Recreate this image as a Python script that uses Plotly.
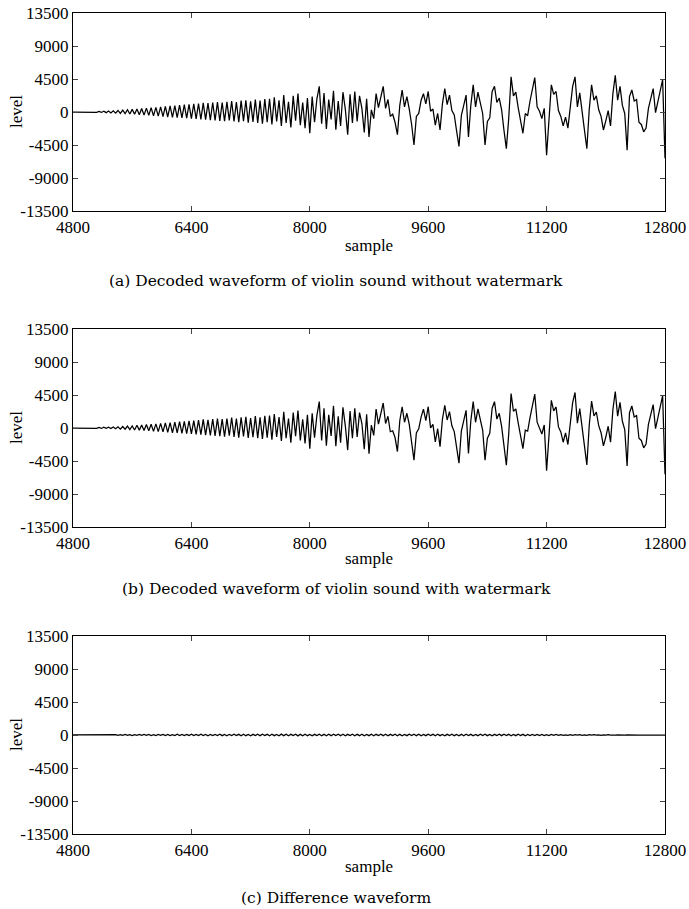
import numpy as np
import plotly.graph_objects as go
from plotly.subplots import make_subplots

# samples 4800..12800, one value every 32 samples
sample = 4800 + 32 * np.arange(251)

# decoded violin waveform (without watermark)
level_orig = [
    0, 0, 10, -10, 0, 20, -15, 30, -25,
    45, -40, 70, -60, 100, -90, 130, -120, 170, -150, 210, -190,
    260, -230, 300, -280, 360, -320, 420, -370, 470, -420, 530, -460, 580, -520, 640, -570, 700, -620, 760, -680, 830,
    -720, 880, -760, 940, -800, 1000, -850, 1050, -900, 1100, -950, 1150, -1000, 1250, -1050, 1200, -1100, 1300, -1150, 1350, -1200, 1300,
    -1250, 1400, -1150, 1500, -1300, 1350, -1400, 1550, -1250, 1600, -1450, 1450, -1350, 1700, -1500, 1550, -1600, 1750, -1400, 1800,
    -1700, 2000, -1300, 1600, -1900, 2300, -1500, 1400, -2100, 2200, -1200, 2500, -1800, 1300, -2200, 1900, -2900, 2100, -1400, 1800, 3500,
    -1600, 2600, -2300, 1700, -1000, 2900, -2400, 1500, -1900, 2700, 400, -3100, 2400, -1500, 2800, -1300, 2200, 500, -2800, 1800, -3400,
    300, -900, 2500, 600, 2000, 3500, 500, 1700, -600, -300, -1400, -3100, 900, 3000, 700, 2100, 400, -1700, -4500, -600,
    -200, 1600, 2500, 1100, 2800, 100, 400, -1800, -200, -2450, 1100, 3200, 1000, 2300, 200, -400, -2600, -4700, -500, 1000, 2300,
    -3400, 900, 3700, 700, 2700, 1000, -200, -4500, -1300, -800, 2800, 3500, 1300, 1900, 300, -2500, -5000, -900, 4800, 2200, 2700,
    600, -1200, -2900, -200, -500, 1500, 3200, 4700, 700, 100, -900, 500, -5900, -1000, 3700, 2400, 2800, 200, -600, -1900, -700,
    -2200, 500, 3500, 4800, 700, 2600, 400, -2500, -5000, 300, 3700, 1600, 2200, 300, -600, -2450, -1200, 200, -1900, 2500, 5000,
    1600, 3500, 900, -200, -5200, 2100, 3000, 1500, 1700, -1400, -1700, -2700, -2200, 500, 1800, 3200, -100, 1500, 3000, 4400, -6300,
]

# difference waveform, panel (c)
level_diff = [
    0, 0, 0, 0, 0, 0, 0, 0, 0, 0, 0, 0, 0, 0,
    40, -30, 50, -40, 60, -50, 40, -60, 70, -50,
    60, -70, 50, -40, 80, -60, 70, -50, 90, -70,
    60, -80, 70, -60, 90, -70, 80, -90, 60, -70,
    100, -80, 70, -90, 80, -60, 100, -90, 70, -80,
    110, -70, 90, -100, 80, -90, 70, -80, 100, -90,
    80, -110, 90, -70, 100, -80, 90, -100, 110, -90,
    80, -100, 90, -80, 110, -90, 100, -80, 90, -110,
    100, -90, 80, -100, 120, -90, 100, -110, 90, -80,
    100, -120, 90, -100, 110, -90, 80, -100, 90, -80,
    110, -100, 90, -110, 100, -90, 120, -80, 100, -90,
    110, -100, 90, -80, 100, -110, 90, -90, 110, -100,
    80, -90, 100, -110, 90, -80, 100, -90, 110, -100,
    90, -80, 100, -110, 90, -100, 80, -90, 100, -80,
    110, -90, 100, -110, 80, -90, 100, -80, 90, -110,
    100, -90, 80, -100, 90, -80, 110, -90, 80, -100,
    90, -110, 100, -80, 90, -100, 80, -90, 110, -80,
    100, -90, 80, -100, 90, -80, 100, -90, 100, -80,
    90, -110, 80, -90, 100, -80, 90, -100, 80, -90,
    70, -80, 90, -70, 80, -90, 60, -70, 80, -60,
    70, -50, 60, -40, 30, -50, 60, -40, 50, -30,
    40, -50, 30, -40, 50, -30, 40, -20, 30, -40,
    20, -30, 40, -20, 30, -20, 20, -10, 20, -10,
    10, -10,
    0, 0, 0, 0, 0, 0, 0, 0, 0, 0, 0, 0, 0, 0, 0,
]
assert len(level_orig) == len(sample) and len(level_diff) == len(sample)

level_marked = [a + d for a, d in zip(level_orig, level_diff)]

x_ticks = [4800, 6400, 8000, 9600, 11200, 12800]
y_ticks = [-13500, -9000, -4500, 0, 4500, 9000, 13500]
captions = [
    "(a) Decoded waveform of violin sound without watermark",
    "(b) Decoded waveform of violin sound with watermark",
    "(c) Difference waveform",
]

# page layout in window pixels
W, H = 689, 909
L, R, T, B = 73, 665, 13, 834
panels_px = [(13, 211), (329, 527), (636, 834)]
sample_y = [245, 558, 866]
caption_y = [281, 589, 898]


def py(y):
    return (B - y) / (B - T)


def px(x):
    return (x - L) / (R - L)


fig = make_subplots(rows=3, cols=1)
for k, ys in enumerate([level_orig, level_marked, level_diff]):
    fig.add_trace(go.Scatter(x=sample, y=ys, mode="lines",
                             line=dict(color="black", width=1.25),
                             showlegend=False), row=k + 1, col=1)

serif = "Liberation Serif, Times New Roman, serif"
tickfont = dict(family=serif, size=17, color="black")
for k, (top, bot) in enumerate(panels_px):
    ax = "" if k == 0 else str(k + 1)
    fig.layout["yaxis" + ax].update(domain=[py(bot), py(top)])
    fig.layout["xaxis" + ax].update(
        range=[4800, 12800], tickvals=x_ticks, ticktext=[str(v) for v in x_ticks],
        ticks="inside", ticklen=5, mirror="allticks", showline=True,
        linecolor="black", linewidth=1.2, showgrid=False, zeroline=False,
        automargin=False, ticklabeloverflow="allow", tickfont=tickfont)
    fig.layout["yaxis" + ax].update(
        range=[-13500, 13500], tickvals=y_ticks, ticktext=[str(v) for v in y_ticks],
        ticks="inside", ticklen=5, mirror="allticks", showline=True,
        linecolor="black", linewidth=1.2, showgrid=False, zeroline=False,
        automargin=False, ticklabeloverflow="allow", tickfont=tickfont)
    fig.add_annotation(x=px(369), y=py(sample_y[k]), xref="paper", yref="paper",
                       xanchor="center", yanchor="middle",
                       text="sample", showarrow=False, font=tickfont)
    fig.add_annotation(x=px(16), y=py((top + bot) / 2), xref="paper", yref="paper",
                       xanchor="center", yanchor="middle",
                       text="level", textangle=-90, showarrow=False, font=tickfont)
    fig.add_annotation(x=px(336), y=py(caption_y[k]), xref="paper", yref="paper",
                       xanchor="center", yanchor="middle",
                       text=captions[k], showarrow=False,
                       font=dict(family="DejaVu Serif, serif", size=15.5, color="black"))

fig.update_layout(
    width=W, height=H,
    margin=dict(l=L, r=W - R, t=T, b=H - B, autoexpand=False),
    plot_bgcolor="white", paper_bgcolor="white",
)

# drop the default 8px body margin so the figure fills the window
fig.write_html("out.html", config={"displayModeBar": False},
               post_script="document.body.style.margin='0';")
